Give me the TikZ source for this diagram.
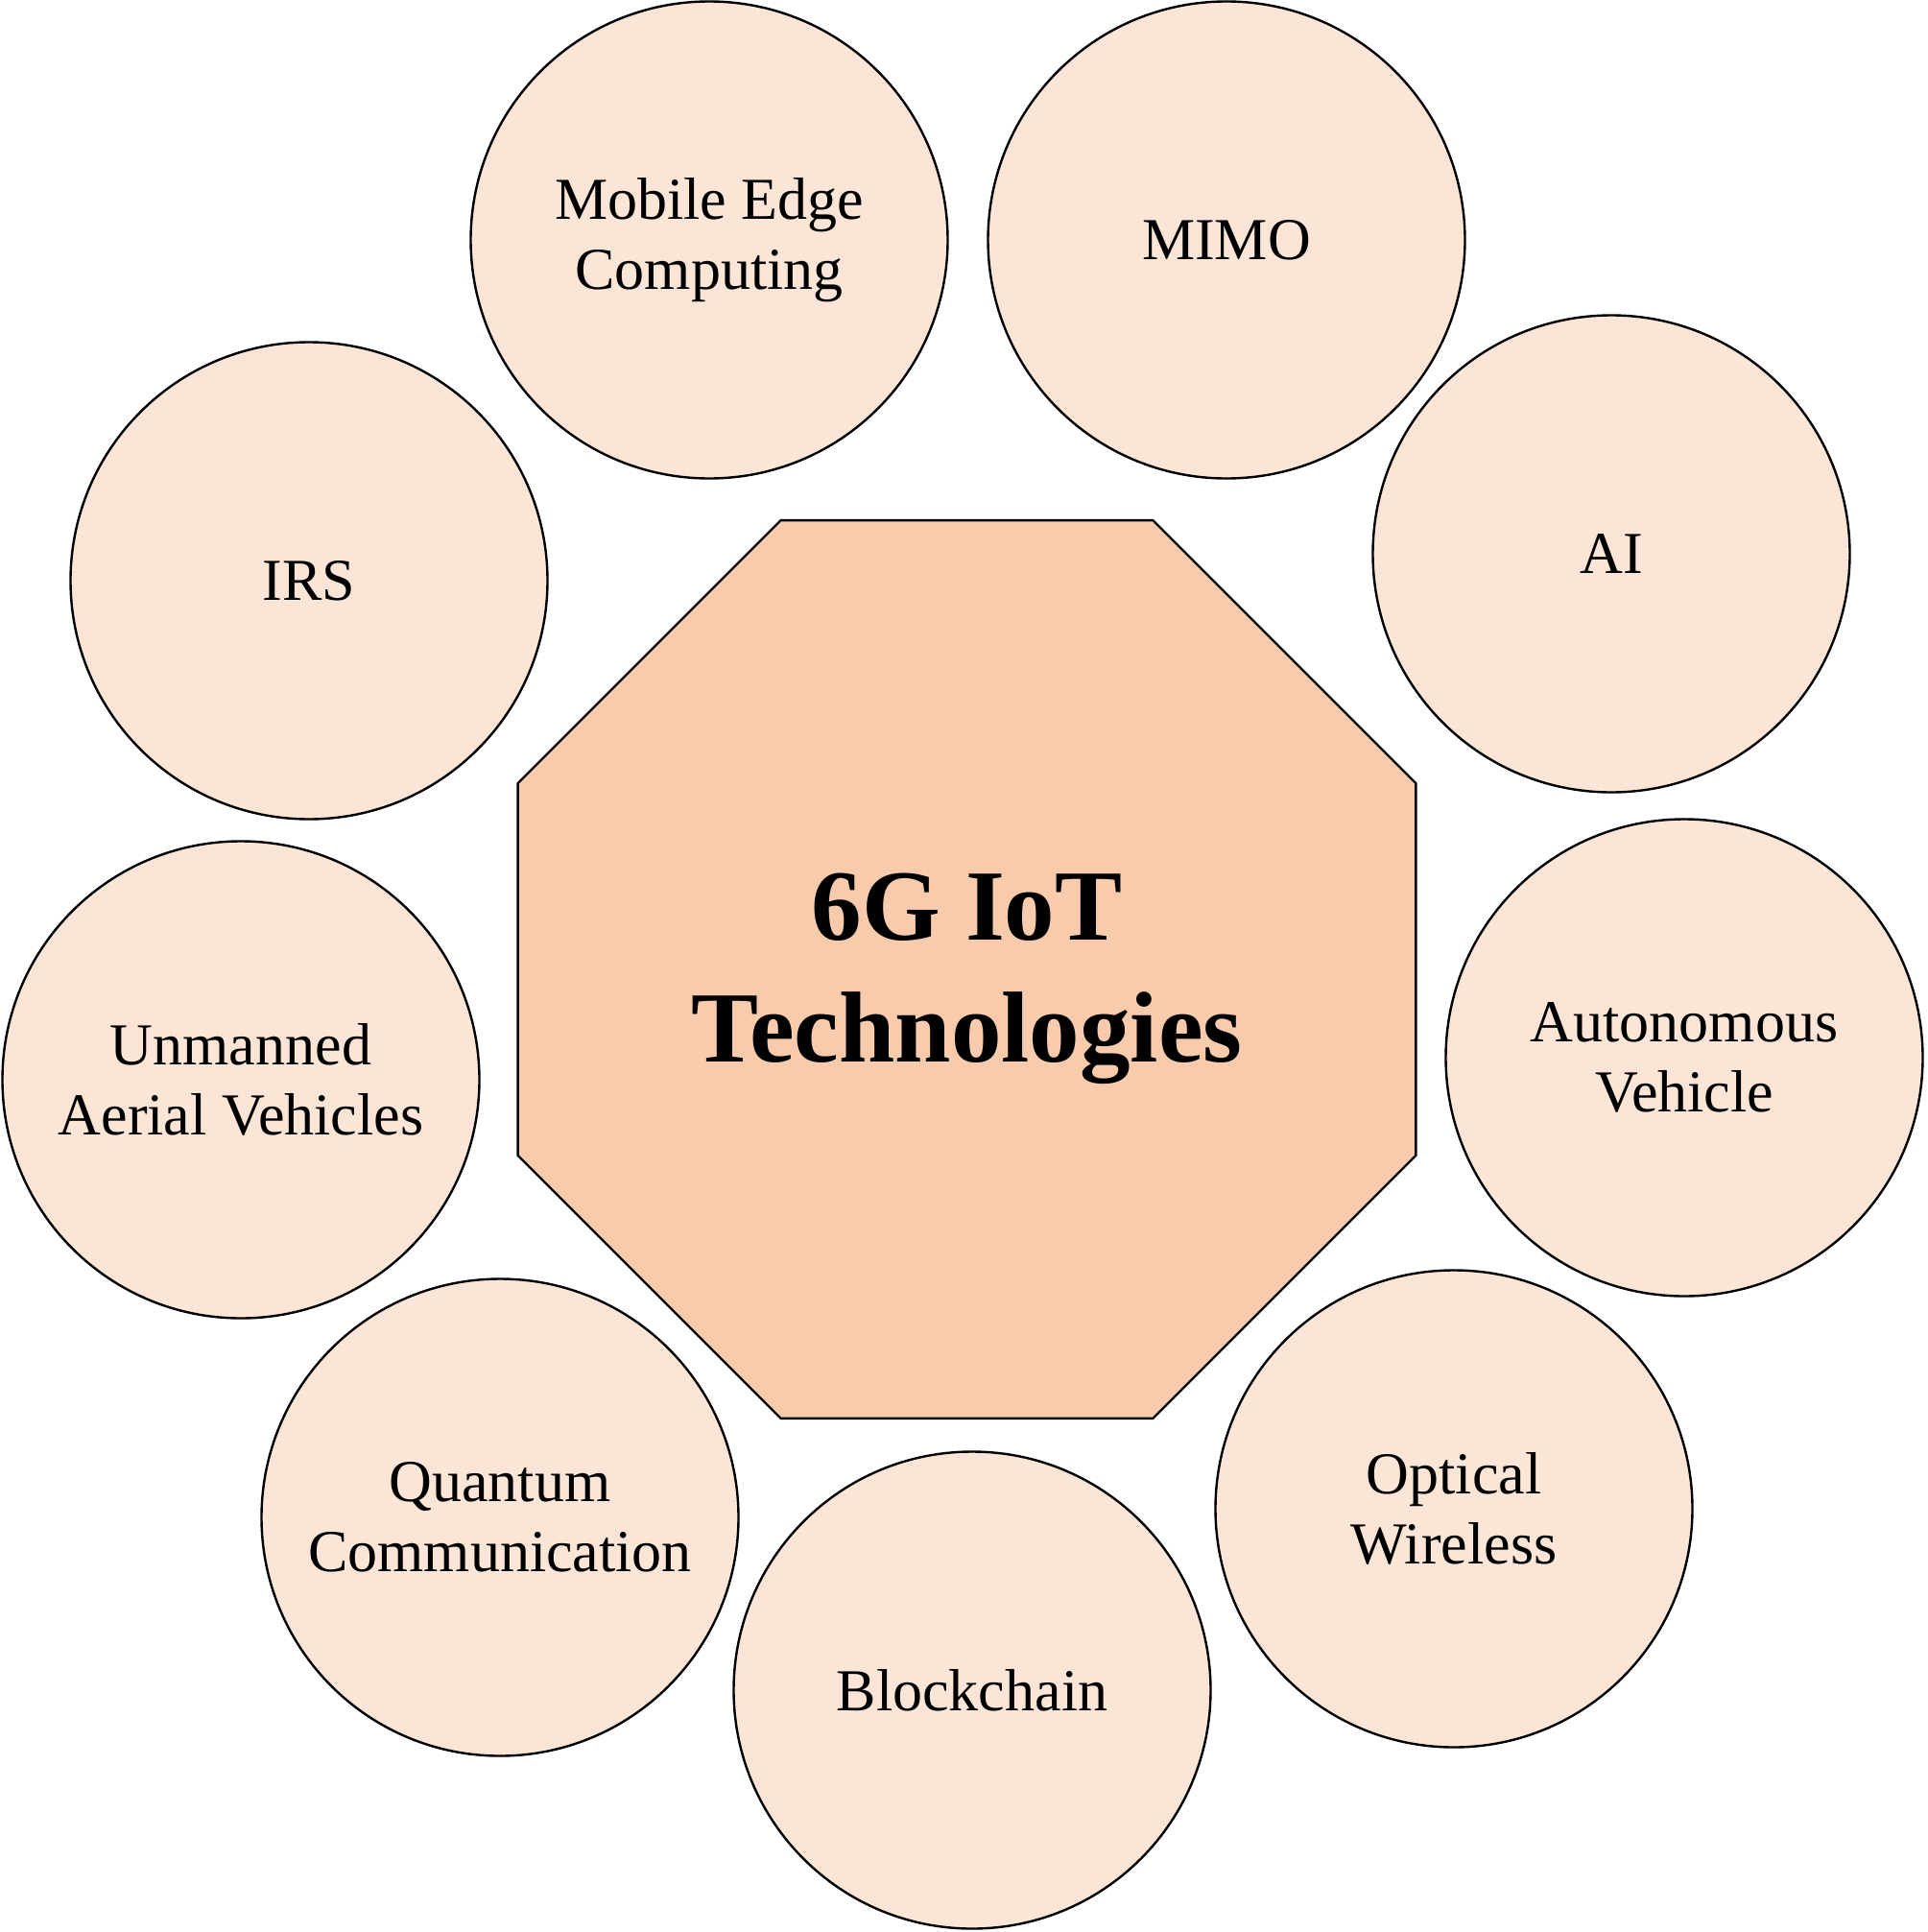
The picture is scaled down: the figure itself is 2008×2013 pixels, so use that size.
\documentclass[tikz,border=0pt]{standalone}
\usepackage{fontspec}
\setmainfont{Liberation Serif}
\usetikzlibrary{shapes.geometric}
\definecolor{techfill}{HTML}{FBE5D6}
\definecolor{hubfill}{HTML}{F8CBAD}
\begin{document}
\begin{tikzpicture}[x=1pt,y=-1pt,
  tech/.style={circle, draw=black, line width=2.4pt, fill=techfill,
    minimum size=497pt, inner sep=0pt, align=center,
    font=\fontsize{62}{73}\selectfont},
  hub/.style={regular polygon, regular polygon sides=8, draw=black,
    line width=2.4pt, fill=hubfill, minimum size=1013pt, inner sep=0pt},
  hubtext/.style={inner sep=0pt, align=center,
    font=\fontsize{105}{127}\selectfont\bfseries}]
\useasboundingbox (0,0) rectangle (2008,2013);
\node[hub] (hub) at (1007.5,1010) {};
\node[hubtext] (hubt) at (1007.5,1020) {6G IoT\\Technologies};
\node[tech] (mec) at (739,250) {Mobile Edge\\Computing};
\node[tech] (mimo) at (1278,250) {MIMO};
\node[tech] (ai) at (1679,577) {AI};
\node[tech] (av) at (1755,1102) {Autonomous\\Vehicle};
\node[tech] (ow) at (1515,1572) {Optical\\Wireless};
\node[tech] (bc) at (1013,1761) {Blockchain};
\node[tech] (qc) at (521,1581) {Quantum\\Communication};
\node[tech] (uav) at (251,1125) {Unmanned\\Aerial Vehicles};
\node[tech] (irs) at (322,605) {IRS};
\end{tikzpicture}
\end{document}
